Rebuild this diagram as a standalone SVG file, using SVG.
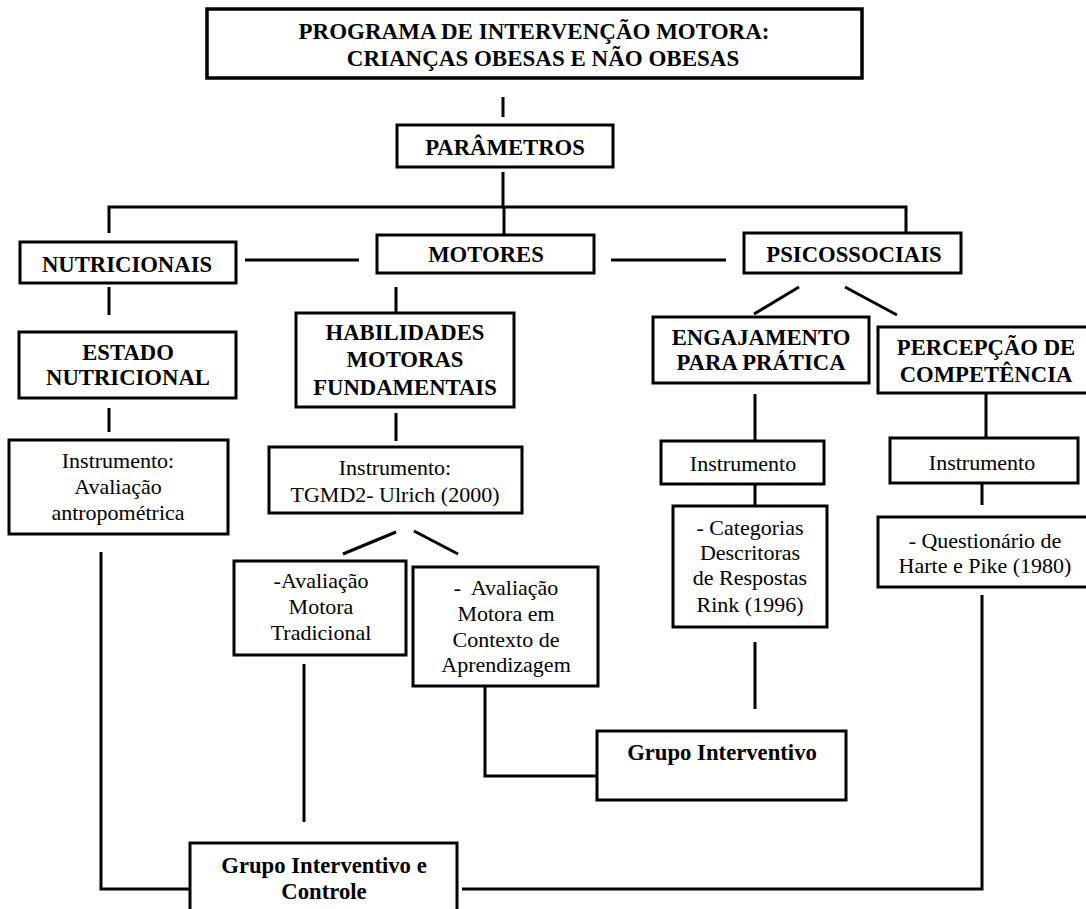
<svg xmlns="http://www.w3.org/2000/svg" width="1086" height="909" viewBox="0 0 1086 909">
<style>
rect{fill:#fff;stroke:#000;stroke-width:3}
.c line,.c polyline{stroke:#000;stroke-width:3;fill:none}
text{font-family:"Liberation Serif","Times New Roman",serif;font-size:22px;fill:#000;text-anchor:middle}
.b{font-weight:bold;font-size:22.7px}
.t{font-weight:bold;font-size:23px}
</style>
<rect width="1086" height="909" style="fill:#fff;stroke:none"/>
<g class="c" id="connectors">
<line x1="503" y1="97" x2="503" y2="117"/>
<line x1="503" y1="172" x2="503" y2="207"/>
<polyline points="109,233 109,207 906,207 906,233"/>
<line x1="504" y1="207" x2="504" y2="235"/>
<line x1="245" y1="260" x2="359" y2="260"/>
<line x1="611" y1="260" x2="726" y2="260"/>
<line x1="109" y1="287" x2="109" y2="315"/>
<line x1="396" y1="287" x2="396" y2="313"/>
<line x1="799" y1="287" x2="754" y2="314"/>
<line x1="845" y1="287" x2="897" y2="315"/>
<line x1="109" y1="408" x2="109" y2="432"/>
<line x1="396" y1="413" x2="396" y2="441"/>
<line x1="755" y1="394" x2="755" y2="441"/>
<line x1="986" y1="393" x2="986" y2="438"/>
<line x1="755" y1="484" x2="755" y2="506"/>
<line x1="982" y1="483" x2="982" y2="505"/>
<line x1="396" y1="532" x2="343" y2="554"/>
<line x1="414" y1="531" x2="458" y2="554"/>
<polyline points="101,552 101,889 190,889"/>
<polyline points="982,595 982,889 462,889"/>
<line x1="304" y1="664" x2="304" y2="822"/>
<polyline points="485,686 485,776 597,776"/>
<line x1="755" y1="642" x2="755" y2="709"/>
</g>
<g id="n-title"><rect x="207" y="9" width="655" height="69" style="stroke-width:3.5"/>
<text class="t" x="534" y="39">PROGRAMA DE INTERVENÇÃO MOTORA:</text>
<text class="t" x="543" y="66">CRIANÇAS OBESAS E NÃO OBESAS</text></g>
<g id="n-parametros"><rect x="397" y="125" width="216" height="42"/>
<text class="b" x="505" y="155">PARÂMETROS</text></g>
<g id="n-nutricionais"><rect x="20" y="242" width="216" height="41"/>
<text class="b" x="127" y="272">NUTRICIONAIS</text></g>
<g id="n-motores"><rect x="377" y="235" width="217" height="38"/>
<text class="b" x="486" y="262">MOTORES</text></g>
<g id="n-psicossociais"><rect x="744" y="233" width="217" height="40"/>
<text class="b" x="854" y="262">PSICOSSOCIAIS</text></g>
<g id="n-estado"><rect x="19" y="332" width="217" height="66"/>
<text class="b" x="128" y="360">ESTADO</text>
<text class="b" x="128" y="385">NUTRICIONAL</text></g>
<g id="n-habilidades"><rect x="296" y="313" width="218" height="94"/>
<text class="b" x="405" y="340">HABILIDADES</text>
<text class="b" x="405" y="367">MOTORAS</text>
<text class="b" x="405" y="395">FUNDAMENTAIS</text></g>
<g id="n-engajamento"><rect x="653" y="317" width="216" height="66"/>
<text class="b" x="761" y="345">ENGAJAMENTO</text>
<text class="b" x="761" y="370">PARA PRÁTICA</text></g>
<g id="n-percepcao"><rect x="878" y="327" width="214" height="66"/>
<text class="b" x="986" y="355">PERCEPÇÃO DE</text>
<text class="b" x="986" y="382">COMPETÊNCIA</text></g>
<g id="n-instr-antrop"><rect x="9" y="440" width="219" height="94"/>
<text x="118" y="468">Instrumento:</text>
<text x="118" y="494">Avaliação</text>
<text x="118" y="520">antropométrica</text></g>
<g id="n-instr-tgmd"><rect x="269" y="447" width="253" height="66"/>
<text x="395" y="475">Instrumento:</text>
<text x="395" y="502">TGMD2- Ulrich (2000)</text></g>
<g id="n-instr-eng"><rect x="661" y="441" width="163" height="43"/>
<text x="743" y="471">Instrumento</text></g>
<g id="n-instr-perc"><rect x="890" y="438" width="188" height="45"/>
<text x="982" y="470">Instrumento</text></g>
<g id="n-categorias"><rect x="673" y="506" width="154" height="121"/>
<text x="750" y="535">- Categorias</text>
<text x="750" y="560">Descritoras</text>
<text x="750" y="585">de Respostas</text>
<text x="750" y="612">Rink (1996)</text></g>
<g id="n-questionario"><rect x="878" y="517" width="214" height="70"/>
<text x="985" y="548">- Questionário de</text>
<text x="985" y="573">Harte e Pike (1980)</text></g>
<g id="n-tradicional"><rect x="234" y="561" width="172" height="94"/>
<text x="321" y="588">-Avaliação</text>
<text x="321" y="614">Motora</text>
<text x="321" y="640">Tradicional</text></g>
<g id="n-contexto"><rect x="413" y="567" width="185" height="119"/>
<text x="506" y="595" xml:space="preserve">-  Avaliação</text>
<text x="506" y="621">Motora em</text>
<text x="506" y="647">Contexto de</text>
<text x="506" y="672">Aprendizagem</text></g>
<g id="n-grupo-int"><rect x="597" y="731" width="249" height="69"/>
<text class="b" x="722" y="760">Grupo Interventivo</text></g>
<g id="n-grupo-ic"><rect x="190" y="843" width="267" height="80"/>
<text class="b" x="324" y="873">Grupo Interventivo e</text>
<text class="b" x="324" y="899">Controle</text></g>
</svg>
